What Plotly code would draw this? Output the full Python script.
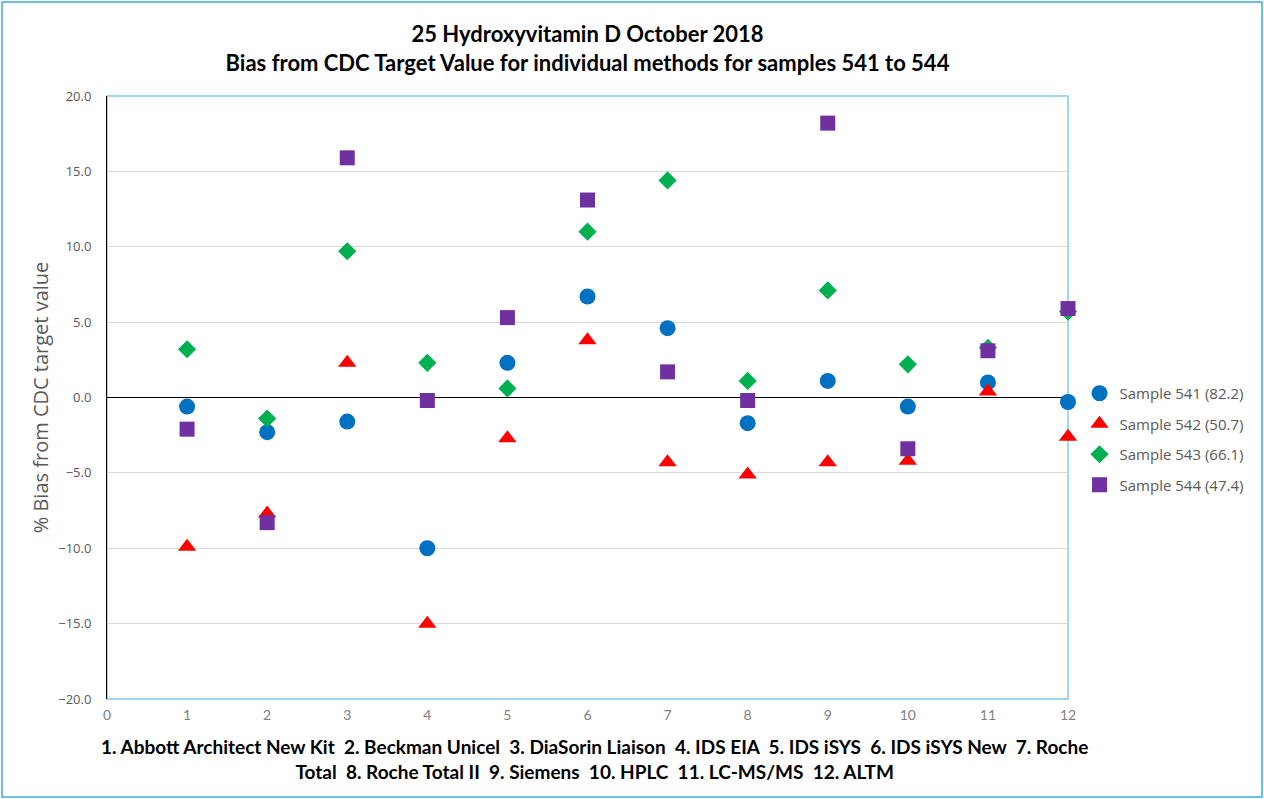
import plotly.graph_objects as go

methods = list(range(1, 13))
s541 = [-0.6, -2.3, -1.6, -10.0, 2.3, 6.7, 4.6, -1.7, 1.1, -0.6, 1.0, -0.3]
s542 = [-9.9, -7.7, 2.3, -15.0, -2.7, 3.8, -4.3, -5.1, -4.3, -4.2, 0.4, -2.6]
s543 = [3.2, -1.4, 9.7, 2.3, 0.6, 11.0, 14.4, 1.1, 7.1, 2.2, 3.3, 5.7]
s544 = [-2.1, -8.3, 15.9, -0.2, 5.3, 13.1, 1.7, -0.2, 18.2, -3.4, 3.1, 5.9]
series_names = ["Sample 541 (82.2)", "Sample 542 (50.7)", "Sample 543 (66.1)", "Sample 544 (47.4)"]
method_names = ["Abbott Architect New Kit", "Beckman Unicel", "DiaSorin Liaison", "IDS EIA",
                "IDS iSYS", "IDS iSYS New", "Roche Total", "Roche Total II", "Siemens",
                "HPLC", "LC-MS/MS", "ALTM"]

styles = [
    dict(symbol="circle", color="#0070C0", size=16),
    dict(symbol="triangle-up", color="#FF0000", size=16),
    dict(symbol="diamond", color="#00B050", size=14),
    dict(symbol="square", color="#7030A0", size=15),
]

fig = go.Figure()
for i, (name, vals, st) in enumerate(zip(series_names, [s541, s542, s543, s544], styles)):
    fig.add_trace(go.Scatter(
        x=methods, y=vals, mode="markers", name=name, cliponaxis=False,
        legendgroup=f"g{i}",
        marker=dict(symbol=st["symbol"], color=st["color"], size=st["size"], line=dict(width=0)),
    ))

W, H = 1264, 799
ml, mr, mt, mb = 107, 196, 96, 100
pw, ph = W - ml - mr, H - mt - mb

labels = [f"{i}. {n}" for i, n in zip(methods, method_names)]
line1 = "  ".join(labels[:6]) + "  7. Roche"
line2 = "Total  " + "  ".join(labels[7:])

title_font = "Lato, Open Sans, sans-serif"

fig.update_layout(
    width=W, height=H,
    margin=dict(l=ml, r=mr, t=mt, b=mb),
    paper_bgcolor="white", plot_bgcolor="white",
    title=dict(
        text="25 Hydroxyvitamin D October 2018<br>Bias from CDC Target Value for individual methods for samples 541 to 544",
        x=(ml + pw / 2) / W, xanchor="center", y=1 - 42 / H, yanchor="top",
        font=dict(family=title_font, size=22, color="black", weight="bold"),
    ),
    showlegend=True,
    legend=dict(x=1.012, y=(mt + ph - 439) / ph, xanchor="left", yanchor="middle",
                font=dict(family="Open Sans, sans-serif", size=15, color="#595959"),
                tracegroupgap=8, itemsizing="trace", bgcolor="rgba(0,0,0,0)"),
    xaxis=dict(range=[0, 12], dtick=1, tick0=0, showgrid=False, zeroline=False,
               showline=False, ticks="", ticklen=0, ticklabelstandoff=6,
               tickfont=dict(family="Lato, Open Sans, sans-serif", size=14, color="#808080")),
    yaxis=dict(range=[-20, 20], dtick=5, tick0=0, tickformat=".1f",
               showgrid=True, gridcolor="#d9d9d9", gridwidth=1,
               zeroline=True, zerolinecolor="#000000", zerolinewidth=1,
               showline=True, linecolor="#000000", linewidth=1, ticks="",
               ticklabelstandoff=12,
               tickfont=dict(family="Open Sans, sans-serif", size=13, color="#595959"),
               title=dict(text="% Bias from CDC target value", standoff=4,
                          font=dict(family="Open Sans, sans-serif", size=20, color="#595959"))),
    shapes=[
        dict(type="rect", xref="paper", yref="paper", x0=0, x1=1, y0=0, y1=1,
             line=dict(color="#7fcbea", width=1.5), layer="below"),
        dict(type="rect", xref="paper", yref="paper",
             x0=(2 - ml) / pw, x1=(W - 2 - ml) / pw,
             y0=(mt + ph - (H - 2)) / ph, y1=(mt + ph - 2) / ph,
             line=dict(color="#3fa9e0", width=1.5), layer="below"),
    ],
    annotations=[
        dict(text=line1 + "<br>" + line2, xref="paper", yref="paper",
             x=(594 - ml) / pw, y=(mt + ph - 733) / ph, xanchor="center", yanchor="top",
             showarrow=False, align="center",
             font=dict(family=title_font, size=19, color="black", weight="bold")),
    ],
)

fig.write_html("out.html", config={"displayModeBar": False},
               post_script="document.body.style.margin='0';")
